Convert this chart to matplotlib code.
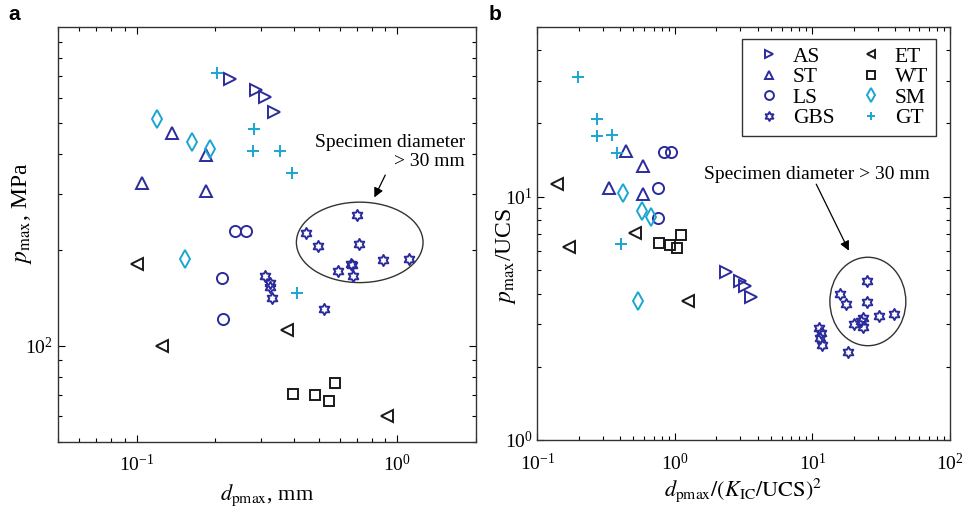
import numpy as np
import matplotlib
matplotlib.use('Agg')
import matplotlib.pyplot as plt
from matplotlib.path import Path
from matplotlib.patches import Ellipse
from matplotlib.ticker import FixedLocator, LogLocator, NullFormatter

plt.rcParams['font.family'] = ['Liberation Serif', 'DejaVu Serif']
plt.rcParams['mathtext.fontset'] = 'stix'

# ---- (a) p_max vs d_pmax ----
as_a_x = [0.228, 0.286, 0.312, 0.338]
as_a_y = [686, 634, 604, 542]
st_a_x = [0.137, 0.185, 0.105, 0.184]
st_a_y = [464, 398, 325, 305]
ls_a_x = [0.239, 0.262, 0.213, 0.214]
ls_a_y = [229, 229, 163, 121]
gbs_a_x = [0.701, 0.448, 0.497, 0.711, 0.666, 0.672, 0.590, 0.674, 0.878, 1.112,
           0.312, 0.324, 0.326, 0.331, 0.522]
gbs_a_y = [258, 225, 205, 209, 181, 179, 171, 166, 186, 187,
           165, 157, 153, 141, 130]
et_a_x = [0.100, 0.125, 0.376, 0.913]
et_a_y = [180, 99.5, 112, 60.1]
wt_a_x = [0.397, 0.485, 0.546, 0.579]
wt_a_y = [70.8, 69.9, 67.3, 76.5]
sm_a_x = [0.120, 0.163, 0.191, 0.153]
sm_a_y = [515, 435, 415, 187]
gt_a_x = [0.203, 0.282, 0.279, 0.356, 0.395, 0.413]
gt_a_y = [715, 477, 408, 408, 349, 146]

# ---- (b) normalised ----
as_b_x = [2.35, 2.97, 3.23, 3.56]
as_b_y = [4.89, 4.50, 4.31, 3.86]
st_b_x = [0.439, 0.583, 0.334, 0.583]
st_b_y = [15.45, 13.41, 10.89, 10.23]
ls_b_x = [0.838, 0.937, 0.758, 0.758]
ls_b_y = [15.3, 15.3, 10.89, 8.15]
gbs_b_x = [24.8, 15.9, 17.5, 25.0, 30.6, 39.1, 20.1, 23.2, 23.4, 22.5,
           11.2, 11.5, 11.4, 11.8, 18.2]
gbs_b_y = [4.50, 3.97, 3.61, 3.68, 3.24, 3.29, 3.00, 3.16, 2.91, 3.08,
           2.88, 2.75, 2.63, 2.46, 2.29]
et_b_x = [0.138, 0.171, 0.513, 1.25]
et_b_y = [11.28, 6.23, 7.07, 3.74]
wt_b_x = [0.766, 0.921, 1.031, 1.102]
wt_b_y = [6.43, 6.33, 6.17, 6.96]
sm_b_x = [0.422, 0.574, 0.671, 0.537]
sm_b_y = [10.38, 8.73, 8.28, 3.73]
gt_b_x = [0.199, 0.273, 0.270, 0.351, 0.382, 0.404]
gt_b_y = [30.95, 20.8, 17.77, 17.93, 15.17, 6.39]

groups = ['AS', 'ST', 'LS', 'GBS', 'ET', 'WT', 'SM', 'GT']
data_a = [(as_a_x, as_a_y), (st_a_x, st_a_y), (ls_a_x, ls_a_y), (gbs_a_x, gbs_a_y),
          (et_a_x, et_a_y), (wt_a_x, wt_a_y), (sm_a_x, sm_a_y), (gt_a_x, gt_a_y)]
data_b = [(as_b_x, as_b_y), (st_b_x, st_b_y), (ls_b_x, ls_b_y), (gbs_b_x, gbs_b_y),
          (et_b_x, et_b_y), (wt_b_x, wt_b_y), (sm_b_x, sm_b_y), (gt_b_x, gt_b_y)]

# six-pointed star (hexagram) outline
ang = np.deg2rad(90 + 30 * np.arange(12))
rad = np.where(np.arange(12) % 2 == 0, 1.0, 1 / np.sqrt(3))
star = Path(list(zip(rad * np.cos(ang), rad * np.sin(ang))) + [(0, 1)], closed=True)

blue = '#2b2b9c'
cyan = '#1aa6d2'
black = '#1a1a1a'
styles = {
    'AS': dict(marker='>', color=blue, ms=8),
    'ST': dict(marker='^', color=blue, ms=8),
    'LS': dict(marker='o', color=blue, ms=8),
    'GBS': dict(marker=star, color=blue, ms=8),
    'ET': dict(marker='<', color=black, ms=8),
    'WT': dict(marker='s', color=black, ms=6.5),
    'SM': dict(marker='d', color=cyan, ms=9),
    'GT': dict(marker='+', color=cyan, ms=8),
}

fig = plt.figure(figsize=(9.66, 5.16), dpi=100)
ax1 = fig.add_axes([0.060, 0.144, 0.4327, 0.8037])
ax2 = fig.add_axes([0.5562, 0.1473, 0.4272, 0.801])


def draw(ax, data, labels):
    for g, (xs, ys) in zip(groups, data):
        st = styles[g]
        ax.plot(xs, ys, linestyle='none', marker=st['marker'], ms=st['ms'],
                mfc='none', mec=st['color'], mew=1.4, label=g if labels else None)


def style_axes(ax):
    ax.set_xscale('log')
    ax.set_yscale('log')
    ax.tick_params(which='both', direction='in', top=True, right=True,
                   labelsize=14, width=0.8)
    ax.tick_params(axis='x', which='major', pad=9)
    ax.tick_params(which='major', length=5)
    ax.tick_params(which='minor', length=3)
    ax.xaxis.set_minor_locator(LogLocator(subs=np.arange(2, 10)))
    ax.yaxis.set_minor_locator(LogLocator(subs=np.arange(2, 10)))
    ax.xaxis.set_minor_formatter(NullFormatter())
    ax.yaxis.set_minor_formatter(NullFormatter())
    for s in ax.spines.values():
        s.set_linewidth(1.0)
        s.set_color('#333333')


draw(ax1, data_a, False)
style_axes(ax1)
ax1.set_xlim(0.05, 2)
ax1.set_ylim(50, 1000)
ax1.yaxis.set_major_locator(FixedLocator([100]))
ax1.set_xlabel(r'$d_{\mathrm{pmax}}$, mm', fontsize=16, labelpad=5)
ax1.set_ylabel(r'$p_{\mathrm{max}}$, MPa', fontsize=17, va='center')
ax1.yaxis.set_label_coords(-0.086, 0.55)

draw(ax2, data_b, True)
style_axes(ax2)
ax2.set_xlim(0.1, 100)
ax2.set_ylim(1, 50)
ax2.set_xlabel(r'$d_{\mathrm{pmax}}/(K_{\mathrm{IC}}/\mathrm{UCS})^2$', fontsize=16, labelpad=2)
ax2.set_ylabel(r'$p_{\mathrm{max}}$/UCS', fontsize=17, va='center')
ax2.yaxis.set_label_coords(-0.076, 0.445)


def axes_point(ax, x, y):
    return ax.transAxes.inverted().transform(ax.transData.transform((x, y)))


# circled large-diameter specimens
ca = axes_point(ax1, 0.717, 211)
ax1.add_patch(Ellipse(ca, 0.303, 0.194, transform=ax1.transAxes,
                      fill=False, ec='#333333', lw=1.0))
cb = axes_point(ax2, 25.3, 3.71)
ax2.add_patch(Ellipse(cb, 0.184, 0.214, transform=ax2.transAxes,
                      fill=False, ec='#333333', lw=1.0))

arrow = dict(arrowstyle='-|>', color='black', lw=0.9, mutation_scale=14)
ax1.text(0.974, 0.698, 'Specimen diameter\n> 30 mm', transform=ax1.transAxes,
         ha='right', va='center', multialignment='right', fontsize=14, linespacing=1.15)
ax1.annotate('', xy=(0.754, 0.583), xytext=(0.786, 0.649),
             xycoords='axes fraction', textcoords='axes fraction', arrowprops=arrow)
ax2.text(0.677, 0.643, 'Specimen diameter > 30 mm', transform=ax2.transAxes,
         ha='center', va='center', fontsize=14)
ax2.annotate('', xy=(0.758, 0.452), xytext=(0.673, 0.625),
             xycoords='axes fraction', textcoords='axes fraction', arrowprops=arrow)

leg = ax2.legend(ncol=2, loc='upper right', bbox_to_anchor=(0.9653, 0.9695),
                 borderaxespad=0, fontsize=15.5, labelspacing=0.02, columnspacing=0.8,
                 handletextpad=0.2, handlelength=1.8, markerscale=0.8,
                 borderpad=0.35, fancybox=False, framealpha=1)
leg.get_frame().set_edgecolor('#333333')
leg.get_frame().set_linewidth(1.0)

fig.text(0.009, 0.972, 'a', fontsize=15, fontweight='bold', family='Liberation Sans',
         ha='left', va='center')
fig.text(0.506, 0.972, 'b', fontsize=15, fontweight='bold', family='Liberation Sans',
         ha='left', va='center')

fig.savefig('out.png', dpi=100)
